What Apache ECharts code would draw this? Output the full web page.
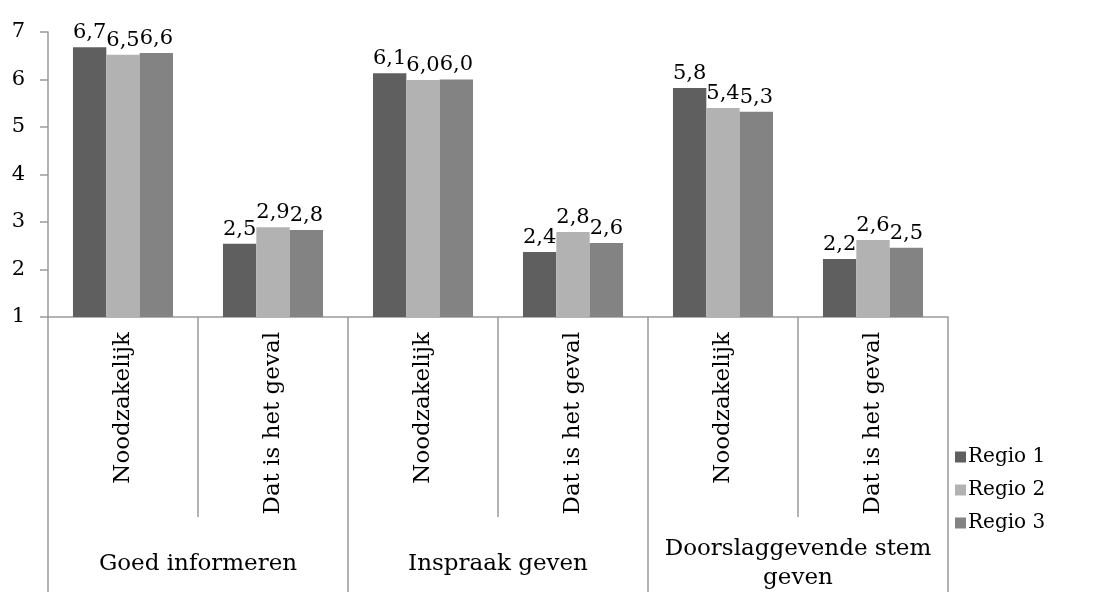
<!DOCTYPE html>
<html>
<head>
<meta charset="utf-8">
<script src="https://cdn.jsdelivr.net/npm/echarts@6/dist/echarts.min.js"></script>
<style>
html,body{margin:0;padding:0;background:#fff;}
#chart{width:1109px;height:592px;}
</style>
</head>
<body>
<div id="chart"></div>
<script>
const categories = ['Noodzakelijk', 'Dat is het geval', 'Noodzakelijk', 'Dat is het geval', 'Noodzakelijk', 'Dat is het geval'];
const groups = ['Goed informeren', 'Inspraak geven', 'Doorslaggevende stem geven'];
const seriesNames = ['Regio 1', 'Regio 2', 'Regio 3'];
const regio1 = [6.68, 2.54, 6.13, 2.37, 5.82, 2.22];
const regio2 = [6.52, 2.89, 5.99, 2.79, 5.40, 2.62];
const regio3 = [6.56, 2.83, 6.00, 2.56, 5.32, 2.46];
const yMin = 1, yMax = 7, yStep = 1;

const FONT = 'DejaVu Serif';
const colors = ['#5f5f5f', '#b2b2b2', '#838383'];
const axisGray = '#9a9a9a';

const chart = echarts.init(document.getElementById('chart'));
const fmt = p => p.value.toFixed(1).replace('.', ',');
function bar(name, data, i) {
  return {
    name: name, type: 'bar', data: data, xAxisIndex: 0,
    barGap: '0%', barCategoryGap: '33.3%',
    itemStyle: { color: colors[i] },
    label: { show: true, position: 'top', distance: 4, formatter: fmt,
      fontFamily: FONT, fontSize: 21, color: '#000' }
  };
}
chart.setOption({
  animation: false,
  backgroundColor: '#fff',
  color: colors,
  grid: { left: 48, top: 32, right: 161, bottom: 275, outerBoundsMode: 'none', containLabel: false },
  legend: {
    orient: 'vertical', left: 950, top: 442,
    data: seriesNames,
    icon: 'rect', itemWidth: 11, itemHeight: 11, itemGap: 13,
    textStyle: { fontFamily: FONT, fontSize: 20, color: '#000', padding: [0, 0, 0, -3] }
  },
  xAxis: [
    {
      type: 'category', data: categories, position: 'bottom',
      axisLine: { show: true, lineStyle: { color: axisGray, width: 1.5 } },
      axisTick: { show: true, interval: 0, length: 200, lineStyle: { color: axisGray, width: 1.5 } },
      axisLabel: { interval: 0, rotate: 90, margin: 15, fontFamily: FONT, fontSize: 23, color: '#000' }
    },
    {
      type: 'category', data: groups, position: 'bottom',
      axisLine: { show: false },
      axisTick: { show: true, interval: 0, length: 290, lineStyle: { color: axisGray, width: 1.5 } },
      axisLabel: { interval: 0, margin: 247, verticalAlign: 'middle', lineHeight: 29,
        fontFamily: FONT, fontSize: 23, color: '#000',
        formatter: v => v.replace('stem ', 'stem\n') }
    }
  ],
  yAxis: {
    type: 'value', min: yMin, max: yMax, interval: yStep,
    axisLine: { show: true, lineStyle: { color: axisGray, width: 1.5 } },
    axisTick: { show: true, length: 8, lineStyle: { color: axisGray, width: 1.5 } },
    splitLine: { show: false },
    axisLabel: { margin: 23, fontFamily: FONT, fontSize: 21, color: '#000' }
  },
  series: [bar(seriesNames[0], regio1, 0), bar(seriesNames[1], regio2, 1), bar(seriesNames[2], regio3, 2)]
});
</script>
</body>
</html>
